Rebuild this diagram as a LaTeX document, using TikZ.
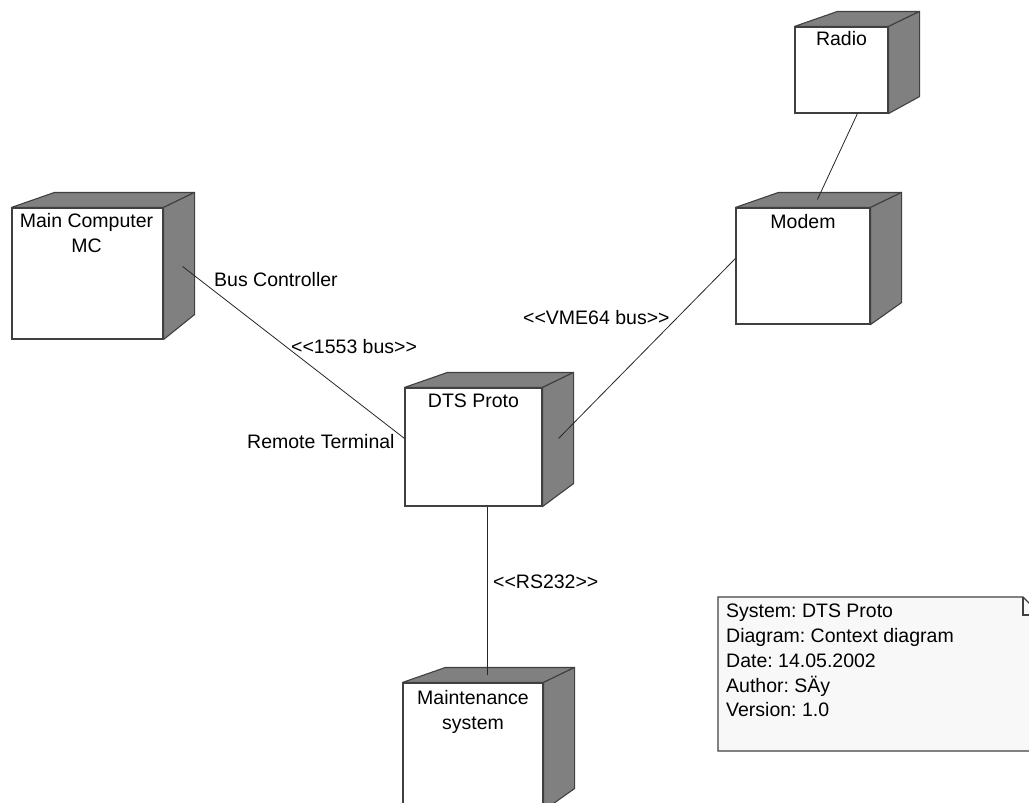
\documentclass[tikz,border=0pt]{standalone}
\usepackage{fontspec}
\setmainfont{Liberation Sans}
\usetikzlibrary{calc}
\frenchspacing

\definecolor{nodeside}{HTML}{808080}
\definecolor{edgeline}{HTML}{404040}
\definecolor{notefill}{HTML}{F8F8F8}

% guillemet-free double angle brackets
\newcommand\ltlt{<\kern0pt<}
\newcommand\gtgt{>\kern0pt>}

\tikzset{
  face/.style={draw=edgeline, line width=1.1pt, fill=white, inner sep=0pt, rectangle},
  shade3d/.style={draw=edgeline, line width=1.1pt, fill=nodeside, line join=round},
  txt/.style={font=\fontsize{19.5}{25}\selectfont, inner sep=0pt},
  title/.style={txt, align=center, anchor=north},
  tag/.style={txt, anchor=base west},
  wire/.style={draw=black!85, line width=0.8pt},
  notebox/.style={draw=edgeline, line width=1.1pt, fill=notefill},
}

% top and right faces of a deployment node
\newcommand\cubefaces[2]{%
  \draw[shade3d] (#1.north west) -- ++(43,-15) -- ($(#1.north east)+(31,-15)$)
      -- (#1.north east) -- cycle;
  \draw[shade3d] (#1.north east) -- ++(31,-15) -- ($(#1.south east)+(31,#2)$)
      -- (#1.south east) -- cycle;
}

\begin{document}
\begin{tikzpicture}[x=1pt, y=-1pt]
  \useasboundingbox (0,0) rectangle (1029,803);
  \clip (0,0) rectangle (1029,803);

  % deployment nodes
  \node[face, minimum width=93pt,  minimum height=86pt]  (radio) at (841.5,70)   {};
  \cubefaces{radio}{-17}
  \node[face, minimum width=151pt, minimum height=131pt] (mc)    at (87.5,273.5) {};
  \cubefaces{mc}{-25}
  \node[face, minimum width=134pt, minimum height=116pt] (modem) at (803,266)    {};
  \cubefaces{modem}{-22}
  \node[face, minimum width=137pt, minimum height=118pt] (dts)   at (473.5,447)  {};
  \cubefaces{dts}{-23}
  \node[face, minimum width=140pt, minimum height=127pt] (maint) at (473,746.5)  {};
  \cubefaces{maint}{-22}

  % node names
  \node[title] (radio-t) at ($(radio.north)+(0,5)$) {Radio};
  \node[title] (mc-t)    at ($(mc.north)+(-1,6)$)   {Main Computer\\MC};
  \node[title] (modem-t) at ($(modem.north)+(0,7)$) {Modem};
  \node[title] (dts-t)   at ($(dts.north)+(0,6)$)   {DTS Proto};
  \node[title] (maint-t) at ($(maint.north)+(0,8)$) {Maintenance\\system};

  % connection end points
  \coordinate (radio-b) at ($(radio.south west)+(63,0)$);
  \coordinate (modem-u) at ($(modem.north west)+(82,-8)$);
  \coordinate (mc-r)    at ($(mc.north east)+(19,59)$);
  \coordinate (dts-l)   at ($(dts.north west)+(0,51)$);
  \coordinate (modem-l) at ($(modem.north west)+(0,51)$);
  \coordinate (dts-r)   at ($(dts.north east)+(16,51)$);
  \coordinate (dts-b)   at ($(dts.south west)+(83,0)$);
  \coordinate (maint-u) at ($(maint.north west)+(85,-7)$);

  % connections
  \draw[wire] (radio-b) -- (modem-u);
  \draw[wire] (mc-r) -- (dts-l);
  \draw[wire] (modem-l) -- (dts-r);
  \draw[wire] (dts-b) -- (maint-u);

  % connection labels
  \node[tag] (bc)   at (214,286) {Bus Controller};
  \node[tag] (b1553) at (291,353) {\ltlt 1553 bus\gtgt};
  \node[tag] (rt)   at (247,448) {Remote Terminal};
  \node[tag] (vme)  at (523,324) {\ltlt VME64 bus\gtgt};
  \node[tag] (rs)   at (493,588) {\ltlt RS232\gtgt};

  % note with folded corner
  \draw[notebox] (718,597) -- (1023,597) -- (1041,615) -- (1041,751) -- (718,751) -- cycle;
  \draw[draw=edgeline, line width=1.1pt] (1023,597) -- (1023,615) -- (1041,615);
  \node[txt, align=left, anchor=north west,
        font=\fontsize{19.5}{24.75}\selectfont] (note) at (726,604)
    {System: DTS Proto\\Diagram: Context diagram\\Date: 14.05.2002\\Author: SÄy\\Version: 1.0};
\end{tikzpicture}
\end{document}
